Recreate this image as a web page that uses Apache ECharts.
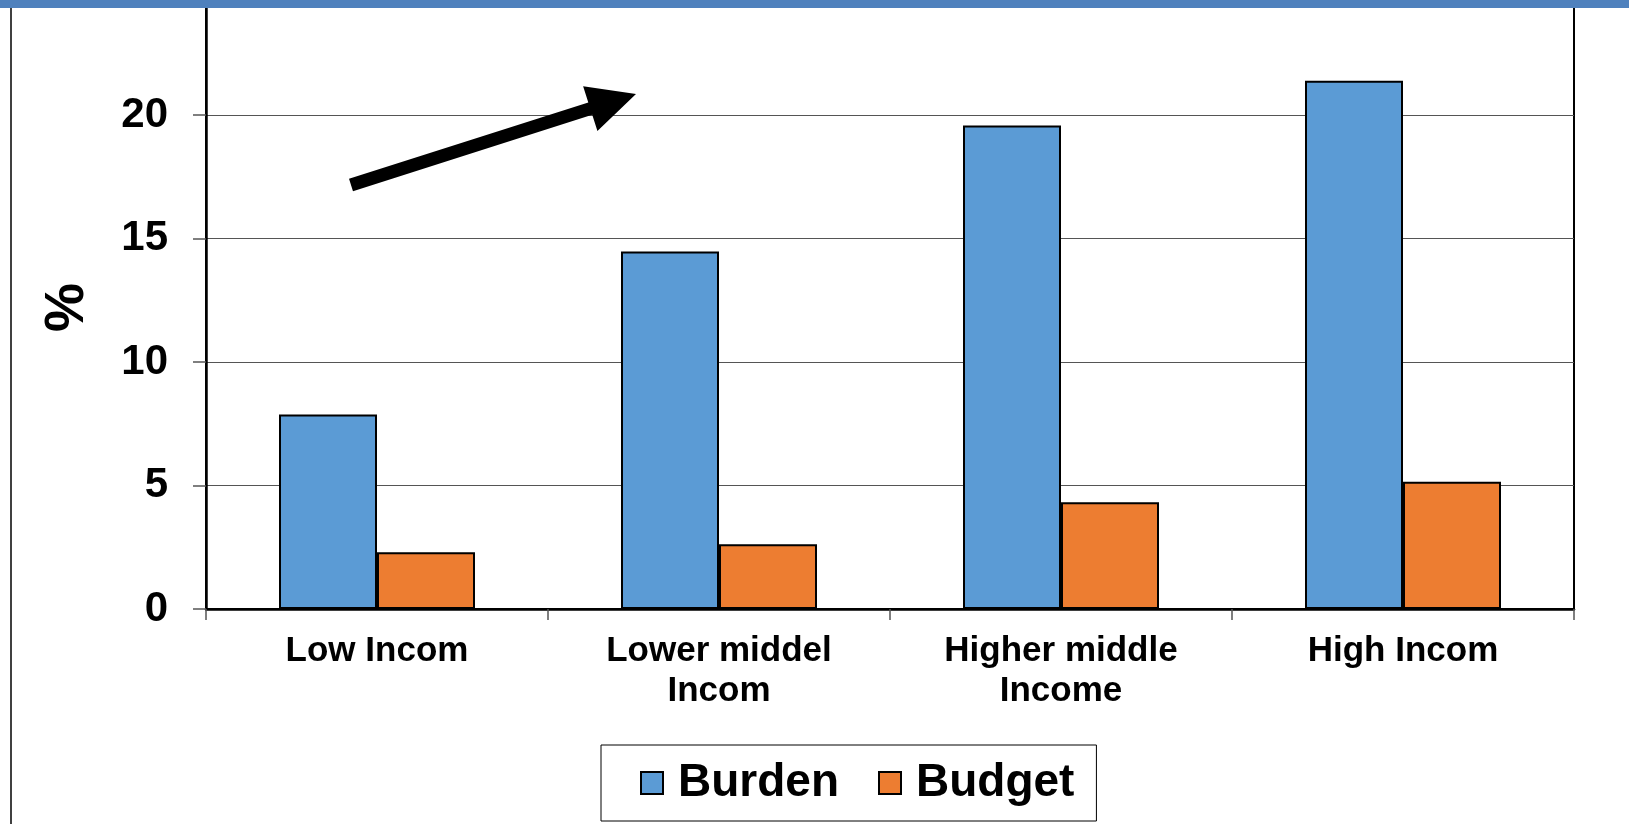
<!DOCTYPE html>
<html>
<head>
<meta charset="utf-8">
<script src="https://cdn.jsdelivr.net/npm/echarts@6/dist/echarts.min.js"></script>
<style>
html,body{margin:0;padding:0;background:#fff;}
#chart{width:1629px;height:824px;}
</style>
</head>
<body>
<div id="chart"></div>
<script>
const categories = ['Low Incom', 'Lower middel\nIncom', 'Higher middle\nIncome', 'High Incom'];
const burden = [7.87, 14.47, 19.57, 21.38];
const budget = [2.30, 2.62, 4.32, 5.15];
const yTicks = [0, 5, 10, 15, 20];

const FONT = '"Liberation Sans", Arial, sans-serif';
const chart = echarts.init(document.getElementById('chart'));

function arrowPoints(x0, y0, x1, y1, shaftW, headW, headL) {
  const dx = x1 - x0, dy = y1 - y0;
  const len = Math.sqrt(dx * dx + dy * dy);
  const ux = dx / len, uy = dy / len;
  const px = -uy, py = ux;
  const bx = x1 - ux * headL, by = y1 - uy * headL;
  return [
    [x0 + px * shaftW / 2, y0 + py * shaftW / 2],
    [bx + px * shaftW / 2, by + py * shaftW / 2],
    [bx + px * headW / 2, by + py * headW / 2],
    [x1, y1],
    [bx - px * headW / 2, by - py * headW / 2],
    [bx - px * shaftW / 2, by - py * shaftW / 2],
    [x0 - px * shaftW / 2, y0 - py * shaftW / 2]
  ];
}

chart.setOption({
  animation: false,
  backgroundColor: '#fff',
  textStyle: { fontFamily: FONT },
  grid: { left: 206, right: 55, top: 6, bottom: 215, show: true, borderColor: '#000', borderWidth: 2, backgroundColor: 'transparent' },
  legend: {
    data: ['Burden', 'Budget'],
    left: 601, top: 745,
    padding: [12, 22, 12, 39],
    itemWidth: 22, itemHeight: 22, itemGap: 39,
    borderColor: '#000', borderWidth: 1,
    icon: 'rect',
    textStyle: { fontSize: 46, fontWeight: 'bold', color: '#000', fontFamily: FONT, padding: [0, 0, 0, 10], lineHeight: 52 }
  },
  xAxis: {
    type: 'category',
    data: categories,
    axisLine: { lineStyle: { color: '#000', width: 2.5 } },
    axisTick: { show: true, length: 11, alignWithLabel: false, lineStyle: { color: '#555', width: 1.5 } },
    axisLabel: { fontSize: 35, fontWeight: 'bold', color: '#000', margin: 22, lineHeight: 40, interval: 0, fontFamily: FONT },
    splitLine: { show: false }
  },
  yAxis: {
    type: 'value',
    min: 0, max: 24.41, interval: 5,
    name: '%',
    nameLocation: 'middle',
    nameRotate: 90,
    nameGap: 111,
    nameTextStyle: { fontSize: 55, fontWeight: 'bold', color: '#000', fontFamily: FONT },
    axisLine: { show: true, lineStyle: { color: '#000', width: 2.5 } },
    axisTick: { show: true, length: 13, lineStyle: { color: '#555', width: 1.5 } },
    axisLabel: {
      fontSize: 42, fontWeight: 'bold', color: '#000', margin: 38, fontFamily: FONT,
      showMaxLabel: false,
      formatter: v => (yTicks.indexOf(v) >= 0 ? String(v) : '')
    },
    splitLine: { show: true, lineStyle: { color: '#555', width: 1.2 } }
  },
  series: [
    { name: 'Burden', type: 'bar', data: burden, barWidth: 98, barGap: '0%',
      itemStyle: { color: '#5B9BD5', borderColor: '#000', borderWidth: 2 } },
    { name: 'Budget', type: 'bar', data: budget, barWidth: 98, barGap: '0%',
      itemStyle: { color: '#ED7D31', borderColor: '#000', borderWidth: 2 } }
  ],
  graphic: [
    { type: 'rect', left: 0, top: 0, shape: { x: 0, y: 0, width: 1629, height: 8 }, style: { fill: '#4F81BD' }, z: 100 },
    { type: 'line', shape: { x1: 11, y1: 8, x2: 11, y2: 824 }, style: { stroke: '#000', lineWidth: 1.5 }, z: 100 },
    { type: 'polygon', shape: { points: arrowPoints(351, 185, 636, 94, 13, 47, 48) }, style: { fill: '#000' }, z: 100 }
  ]
});
</script>
</body>
</html>
